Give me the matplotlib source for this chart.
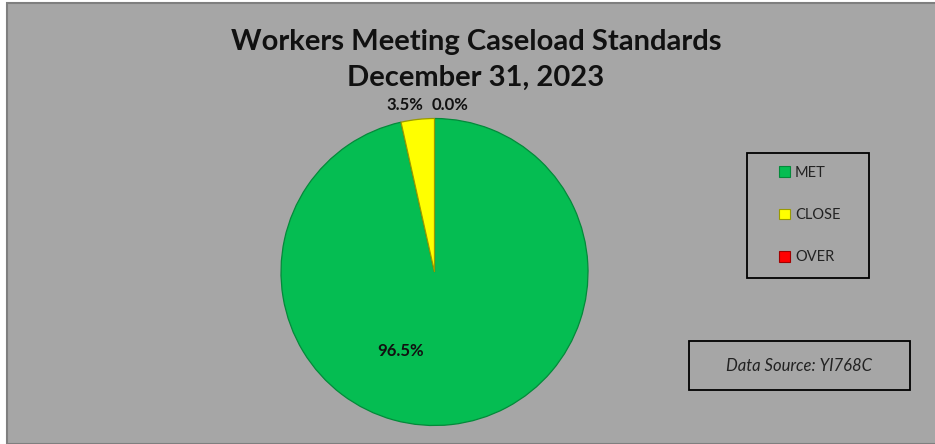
import numpy as np
import matplotlib.pyplot as plt
from matplotlib.patches import Rectangle, Patch

labels = ['MET', 'CLOSE', 'OVER']
values = [96.5, 3.5, 0.0]
colors = ['#05bd52', '#ffff00', '#ff0000']
edges = ['#038a3a', '#9a9a00', '#a00000']

title = 'Workers Meeting Caseload Standards\nDecember 31, 2023'
source = 'Data Source: YI768C'

plt.rcParams['font.family'] = ['Lato', 'DejaVu Sans']

W, H = 935, 444
fig = plt.figure(figsize=(W/100, H/100), dpi=100, facecolor='white')

# chart area background
fig.patches.append(Rectangle((7/W, 0), 1, 1 - 3/H, transform=fig.transFigure,
                             facecolor='#a6a6a6', edgecolor='#7f7f7f', lw=1.5, zorder=-5))

fig.text(476/W, 1 - 60/H, title, ha='center', va='center', fontsize=21,
         fontweight='bold', color='#111111', linespacing=1.45)

# pie axes sized in pixels
cx, cy, r = 434.5, 272, 153.5
ax = fig.add_axes([(cx - r)/W, 1 - (cy + r)/H, 2*r/W, 2*r/H])

wedges, _ = ax.pie(values, colors=colors, startangle=90, counterclock=False,
                   radius=1, wedgeprops=dict(linewidth=0.9))
for w, ec, v in zip(wedges, edges, values):
    w.set_edgecolor(ec)
    if v == 0:
        w.set_linewidth(0)
ax.set_xlim(-1, 1)
ax.set_ylim(-1, 1)
ax.axis('off')

# data labels (Excel best-fit placement)
pos = [(-0.22, -0.515), (-0.19, 1.09), (0.10, 1.09)]
for v, (x, y) in zip(values, pos):
    ax.text(x, y, f'{v:.1f}%', ha='center', va='center', fontsize=12,
            fontweight='bold', color='#111111', clip_on=False)

# legend box
fig.patches.append(Rectangle((747/W, 1 - 278/H), 122/W, 125/H, transform=fig.transFigure,
                             facecolor='none', edgecolor='black', lw=1.3, zorder=2))
handles = [Patch(facecolor=c, edgecolor=e, lw=0.8) for c, e in zip(colors, edges)]
leg = fig.legend(handles, labels, loc='center left', bbox_to_anchor=(779/W, 1 - 215/H),
                 frameon=False, fontsize=10.5, handlelength=0.75, handleheight=0.75,
                 handletextpad=0.35, labelspacing=1.95, borderpad=0, borderaxespad=0)
for t in leg.get_texts():
    t.set_color('#222222')

# data source box
fig.patches.append(Rectangle((689/W, 1 - 390/H), 221/W, 49/H, transform=fig.transFigure,
                             facecolor='none', edgecolor='black', lw=1.3, zorder=2))
fig.text(799/W, 1 - 366/H, source, ha='center', va='center', fontsize=12,
         style='italic', color='#222222')

fig.savefig('out.png', dpi=100, facecolor=fig.get_facecolor())
